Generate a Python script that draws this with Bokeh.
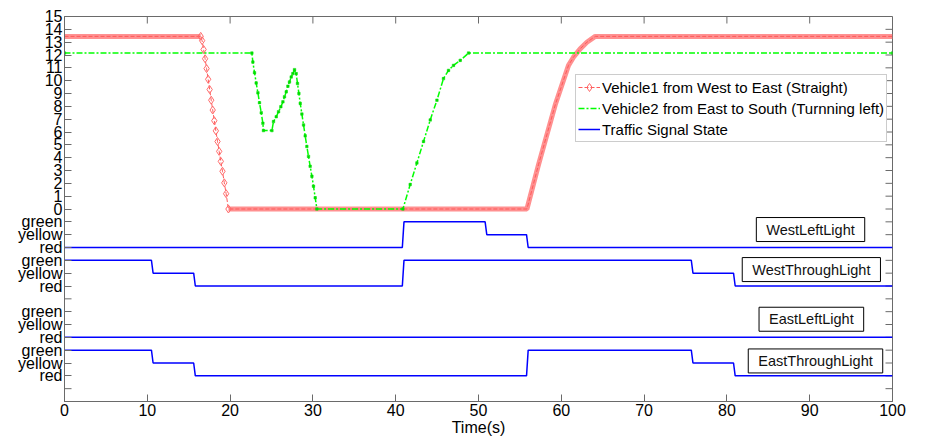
import math
from bokeh.plotting import figure
from bokeh.models import Range1d, FixedTicker, Label, Legend, LegendItem
from bokeh.embed import file_html
from bokeh.resources import INLINE

# ---------------- data ----------------
TIME_TICKS = [0, 10, 20, 30, 40, 50, 60, 70, 80, 90, 100]
SPEED_TICKS = list(range(0, 16))
STATE_NAMES = ["green", "yellow", "red"]

# Vehicle 1 (West -> East, straight)
V1_T = [0.0, 16.45,
        16.62, 16.80, 16.98, 17.16, 17.35, 17.53, 17.72, 17.90,
        18.09, 18.28, 18.48, 18.68, 18.88, 19.08, 19.30, 19.52,
        19.8, 55.85, 57.25, 59.26, 60.87, 61.47, 62.28, 63.09, 64.1, 100.0]
V1_V = [13.45, 13.45,
        13.12, 12.43, 11.71, 10.94, 10.11, 9.31, 8.48, 7.71,
        6.88, 6.09, 5.26, 4.49, 3.71, 2.94, 2.04, 1.19,
        0.0, 0.0, 3.46, 8.10, 11.19, 11.83, 12.48, 12.99, 13.45, 13.45]

# Vehicle 2 (East -> South, turning left)
V2_T = [0.0, 22.63, 22.75, 22.95, 23.15, 23.36, 23.55, 23.76, 23.96, 24.03,
        25.05, 25.24, 25.57, 25.85, 26.13, 26.38, 26.57, 26.78, 26.98, 27.17,
        27.38, 27.58, 27.78, 27.98, 28.14, 28.31, 28.47, 28.67, 28.87, 29.07,
        29.27, 29.47, 29.67, 29.88, 30.07, 30.28, 30.48, 40.87, 41.75, 42.56,
        43.36, 44.17, 44.98, 45.77, 46.38, 46.98, 47.79, 48.8, 100.0]
V2_V = [12.15, 12.15, 11.45, 10.62, 9.82, 9.05, 8.28, 7.50, 6.68, 6.11,
        6.11, 6.81, 7.19, 7.58, 7.97, 8.35, 8.74, 9.13, 9.57, 9.90,
        10.29, 10.55, 10.86, 10.55, 9.78, 9.00, 8.23, 7.40, 6.55, 5.70,
        4.87, 4.10, 3.33, 2.55, 1.78, 0.88, 0.0, 0.0, 1.91, 3.59,
        5.26, 6.94, 8.48, 10.16, 10.80, 11.19, 11.58, 12.15, 12.15]

# Traffic signal states
SIGNAL_NAMES = ["WestLeftLight", "WestThroughLight", "EastLeftLight", "EastThroughLight"]
WL_T = [0, 40.8, 41.0, 50.8, 51.0, 55.8, 56.0, 100]
WL_S = ["red", "red", "green", "green", "yellow", "yellow", "red", "red"]
WT_T = [0, 10.5, 10.7, 15.6, 15.8, 40.8, 41.0, 75.7, 75.9, 80.8, 81.0, 100]
WT_S = ["green", "green", "yellow", "yellow", "red", "red", "green", "green",
        "yellow", "yellow", "red", "red"]
EL_T = [0, 100]
EL_S = ["red", "red"]
ET_T = [0, 10.5, 10.7, 15.6, 15.8, 55.8, 56.0, 75.7, 75.9, 80.8, 81.0, 100]
ET_S = ["green", "green", "yellow", "yellow", "red", "red", "green", "green",
        "yellow", "yellow", "red", "red"]

# ---------------- layout / style ----------------
PANEL_TOP = [-1, -4, -8, -11]           # y level of "green" in each panel
BLANK_TICKS = [-7, -14]                 # unlabeled separator ticks
BOX_POS = [(90.1, -1.6), (90.2, -4.72), (90.2, -8.59), (90.7, -11.84)]
FONT = "Liberation Sans"
AXIS_COLOR = "#6a6a6a"
TICK_LEN = 7

X0, X1, Y0, Y1 = 0, 100, -15, 15

p = figure(width=925, height=441, x_range=Range1d(X0, X1), y_range=Range1d(Y0, Y1),
           output_backend="svg", toolbar_location=None,
           min_border_left=64, min_border_right=33, min_border_top=16, min_border_bottom=40)
p.xgrid.visible = False
p.ygrid.visible = False
p.outline_line_color = AXIS_COLOR
p.background_fill_color = "white"
p.border_fill_color = "white"

# y ticks and labels
labeled_ticks = list(SPEED_TICKS)
overrides = {t: str(t) for t in SPEED_TICKS}
for top in PANEL_TOP:
    for k, name in enumerate(STATE_NAMES):
        labeled_ticks.append(top - k)
        overrides[top - k] = name
labeled_ticks = sorted(labeled_ticks)
all_y_ticks = sorted(labeled_ticks + BLANK_TICKS)

for ax in p.yaxis:
    ax.ticker = FixedTicker(ticks=labeled_ticks)
    ax.major_label_overrides = overrides
for ax in p.xaxis:
    ax.ticker = FixedTicker(ticks=TIME_TICKS)
    ax.axis_label = "Time(s)"

for ax in list(p.xaxis) + list(p.yaxis):
    ax.major_tick_in = TICK_LEN
    ax.major_tick_out = 0
    ax.minor_tick_line_color = None
    ax.axis_line_color = AXIS_COLOR
    ax.major_tick_line_color = AXIS_COLOR
    ax.major_label_text_font = FONT
    ax.major_label_text_font_size = "16px"
    ax.major_label_text_color = "black"
    ax.axis_label_text_font = FONT
    ax.axis_label_text_font_size = "16px"
    ax.axis_label_text_font_style = "normal"
    ax.axis_label_text_color = "black"
    ax.major_label_standoff = 2
    ax.axis_label_standoff = 0

# mirrored inward ticks: top, right, and unlabeled left separators
inner_x = TIME_TICKS[1:-1]
p.ray(x=inner_x, y=[Y1] * len(inner_x), length=TICK_LEN, length_units="screen",
      angle=-math.pi / 2, line_color=AXIS_COLOR, line_width=1)
p.ray(x=[X1] * len(all_y_ticks), y=all_y_ticks, length=TICK_LEN, length_units="screen",
      angle=math.pi, line_color=AXIS_COLOR, line_width=1)
p.ray(x=[X0] * len(BLANK_TICKS), y=BLANK_TICKS, length=TICK_LEN, length_units="screen",
      angle=0, line_color=AXIS_COLOR, line_width=1)

# ---------------- vehicle 1 ----------------
RED_BAND = "#ff9090"
zero_idx = V1_T.index(19.8)
p.line(V1_T[:2], V1_V[:2], line_color=RED_BAND, line_width=5)
p.line(V1_T[zero_idx:], V1_V[zero_idx:], line_color=RED_BAND, line_width=5)
r1_line = p.line(V1_T, V1_V, line_color="#ff5a5a", line_width=1, line_dash="4 2")
r1_mark = p.scatter(V1_T[1:zero_idx + 1], V1_V[1:zero_idx + 1], marker="diamond", size=8,
                    fill_color="white", fill_alpha=0.0, line_color="#ff6b6b", line_width=1)

# ---------------- vehicle 2 ----------------
r2_line = p.line(V2_T, V2_V, line_color="#00ff00", line_width=1.5, line_dash="6 2 2 2")
r2_mark = p.scatter(V2_T, V2_V, marker="square", size=2.5, fill_color="#00dd00",
                    line_color="#00dd00", line_width=0.5)

# ---------------- signals ----------------
signal_series = [(WL_T, WL_S), (WT_T, WT_S), (EL_T, EL_S), (ET_T, ET_S)]
sig_renderers = []
for (ts, ss), top in zip(signal_series, PANEL_TOP):
    ys = [top - STATE_NAMES.index(s) for s in ss]
    sig_renderers.append(p.line(ts, ys, line_color="#0000ff", line_width=1.5))

for name, (bx, by) in zip(SIGNAL_NAMES, BOX_POS):
    p.add_layout(Label(x=bx, y=by, text=name, text_align="center", text_baseline="middle",
                       text_font=FONT, text_font_size="14.5px", text_color="#111111",
                       border_line_color="black", border_line_width=1,
                       background_fill_color="white", padding=(10, 4)))

# y axis title centred on the speed part
p.add_layout(Label(x=-5.1, y=7.5, text="Speed (m/s)", angle=math.pi / 2,
                   text_align="center", text_baseline="middle",
                   text_font=FONT, text_font_size="16px", text_color="black"))

legend = Legend(items=[
    LegendItem(label="Vehicle1 from West to East (Straight)", renderers=[r1_line, r1_mark]),
    LegendItem(label="Vehicle2 from East to South (Turnning left)", renderers=[r2_line]),
    LegendItem(label="Traffic Signal State", renderers=[sig_renderers[0]]),
], location=(511, 259))
legend.label_text_font = FONT
legend.label_text_font_size = "15px"
legend.label_text_color = "black"
legend.border_line_color = "#999999"
legend.border_line_width = 1
legend.background_fill_color = "white"
legend.background_fill_alpha = 1.0
legend.padding = 2
legend.margin = 0
legend.spacing = 1
legend.glyph_width = 22
legend.glyph_height = 20
legend.label_height = 20
legend.label_standoff = 2
p.add_layout(legend)

open("out.html", "w").write(file_html(p, INLINE))
